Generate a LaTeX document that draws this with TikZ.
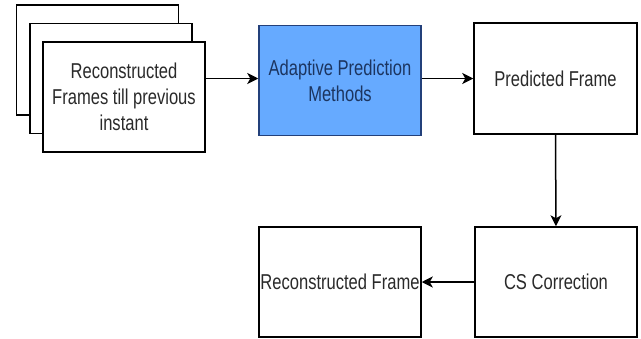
\documentclass[tikz,border=0pt]{standalone}
\usepackage{fontspec}
\newfontfamily\diafont[FakeStretch=0.77]{Liberation Sans}
\usetikzlibrary{arrows.meta}
\definecolor{boxblue}{HTML}{66AAFF}
\definecolor{blueedge}{HTML}{23407A}
\definecolor{bluetext}{HTML}{1C3560}
\definecolor{txtgray}{HTML}{2A2A2A}
\tikzset{
  box/.style={draw=black, line width=1.5pt, fill=white, rectangle, inner sep=0pt,
    minimum width=162pt, minimum height=110pt, align=center,
    font=\diafont\fontsize{21.5}{26}\selectfont, text=txtgray},
  bluebox/.style={box, fill=boxblue, draw=blueedge, text=bluetext},
  conn/.style={line width=1.5pt, -{Stealth[length=11pt,width=11pt,inset=3pt]}}
}
\begin{document}
\begin{tikzpicture}[x=1pt,y=-1pt]
\useasboundingbox (0,0) rectangle (641,338);
\node[box] (back) at (97.5,60) {};
\node[box] (mid) at (111,78.5) {};
\node[box] (front) at (124,97) {Reconstructed\\Frames till previous\\instant};
\node[bluebox] (apm) at (340,80.5) {Adaptive Prediction\\Methods};
\node[box, minimum width=163pt, minimum height=111pt] (pred) at (555.5,78.5) {Predicted Frame};
\node[box] (cs) at (556,282) {CS Correction};
\node[box] (rec) at (340,282) {Reconstructed Frame};
\draw[conn] (front.east |- pred.west) -- (apm.west |- pred.west);
\draw[conn] (apm.east |- pred.west) -- (pred.west);
\draw[conn] (pred.south) -- (cs.north);
\draw[conn] (cs.west) -- (rec.east);
\end{tikzpicture}
\end{document}
